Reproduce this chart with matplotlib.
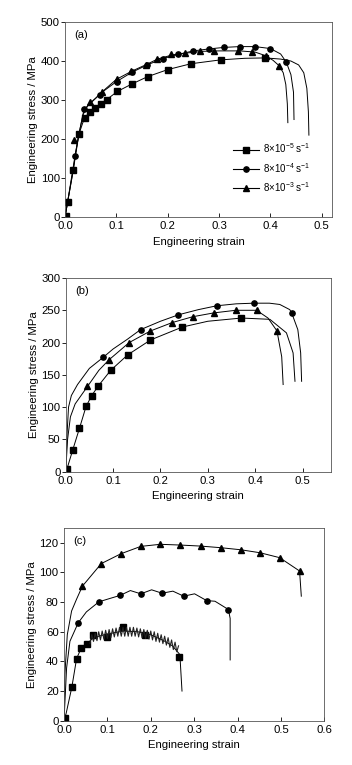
import matplotlib
matplotlib.use('Agg')
import matplotlib.pyplot as plt

plt.rcParams['font.family'] = ['Liberation Sans', 'DejaVu Sans']
plt.rcParams['mathtext.fontset'] = 'custom'
plt.rcParams['mathtext.rm'] = 'Liberation Sans'
plt.rcParams['mathtext.default'] = 'regular'

labels = ['8×10$^{-5}$ s$^{-1}$', '8×10$^{-4}$ s$^{-1}$', '8×10$^{-3}$ s$^{-1}$']

# ---- panel (a) ----
a_sq_x = [0, 0.005, 0.016, 0.027, 0.038, 0.049, 0.059, 0.07, 0.081, 0.102, 0.13, 0.161, 0.2, 0.245, 0.303, 0.35, 0.39, 0.42, 0.44, 0.455, 0.465, 0.471, 0.474, 0.475]
a_sq_y = [0, 38, 120, 212, 255, 269, 280, 291, 301, 322, 341, 360, 378, 393, 403, 407, 408, 405, 400, 390, 370, 330, 270, 210]
a_sq_mx = [0.002, 0.005, 0.016, 0.027, 0.038, 0.049, 0.059, 0.07, 0.081, 0.102, 0.13, 0.161, 0.2, 0.245, 0.303, 0.39]
a_sq_my = [2, 38, 120, 212, 255, 269, 280, 291, 301, 322, 341, 360, 378, 393, 403, 408]

a_ci_x = [0, 0.005, 0.0195, 0.027, 0.037, 0.05, 0.07, 0.1, 0.13, 0.16, 0.19, 0.22, 0.25, 0.28, 0.31, 0.34, 0.37, 0.4, 0.42, 0.431, 0.44, 0.445, 0.446]
a_ci_y = [0, 38, 157, 212, 276, 292, 318, 347, 371, 390, 406, 417, 426, 431, 435, 437, 437, 432, 418, 397, 365, 320, 250]
a_ci_mx = [0.0195, 0.037, 0.069, 0.101, 0.13, 0.159, 0.19, 0.22, 0.25, 0.28, 0.31, 0.34, 0.37, 0.40, 0.431]
a_ci_my = [157, 276, 314, 347, 371, 390, 406, 418, 426, 432, 435, 437, 437, 432, 397]

a_tr_x = [0, 0.005, 0.016, 0.02, 0.027, 0.035, 0.045, 0.06, 0.08, 0.1, 0.13, 0.16, 0.18, 0.21, 0.24, 0.27, 0.3, 0.34, 0.37, 0.39, 0.405, 0.417, 0.425, 0.43, 0.433, 0.434]
a_tr_y = [0, 38, 120, 160, 212, 262, 288, 305, 330, 353, 374, 392, 405, 416, 421, 425, 426, 426, 423, 414, 402, 388, 370, 340, 290, 242]
a_tr_mx = [0.018, 0.048, 0.072, 0.101, 0.129, 0.158, 0.18, 0.206, 0.233, 0.262, 0.29, 0.337, 0.365, 0.392, 0.417]
a_tr_my = [198, 294, 321, 355, 374, 391, 406, 417, 421, 426, 427, 426, 423, 414, 388]

# ---- panel (b) ----
b_sq_x = [0, 0.003, 0.015, 0.029, 0.043, 0.055, 0.069, 0.095, 0.131, 0.179, 0.246, 0.3, 0.371, 0.431, 0.466, 0.48, 0.484]
b_sq_y = [0, 5, 34, 67, 101, 118, 133, 157, 181, 204, 224, 233, 238, 236, 215, 184, 140]
b_sq_mx = [0.002, 0.015, 0.029, 0.043, 0.055, 0.069, 0.095, 0.131, 0.179, 0.246, 0.371]
b_sq_my = [4, 34, 67, 101, 118, 133, 157, 181, 204, 224, 238]

b_ci_x = [0, 0.003, 0.006, 0.012, 0.025, 0.05, 0.079, 0.1, 0.13, 0.158, 0.2, 0.238, 0.28, 0.319, 0.36, 0.397, 0.43, 0.452, 0.473, 0.477, 0.49, 0.496, 0.498]
b_ci_y = [0, 60, 100, 118, 135, 160, 177, 190, 205, 220, 233, 243, 251, 257, 260, 261, 261, 259, 251, 246, 220, 184, 140]
b_ci_mx = [0.079, 0.158, 0.238, 0.319, 0.397, 0.477]
b_ci_my = [177, 220, 243, 257, 261, 246]

b_tr_x = [0, 0.004, 0.01, 0.02, 0.046, 0.07, 0.091, 0.134, 0.179, 0.225, 0.268, 0.313, 0.359, 0.403, 0.427, 0.446, 0.456, 0.459]
b_tr_y = [0, 50, 85, 105, 132, 157, 173, 200, 218, 231, 240, 246, 250, 250, 238, 218, 178, 135]
b_tr_mx = [0.046, 0.091, 0.134, 0.179, 0.225, 0.268, 0.313, 0.359, 0.403, 0.446]
b_tr_my = [132, 173, 200, 218, 231, 240, 246, 250, 250, 218]

# ---- panel (c) ----
c_sq_x = [0, 0.005, 0.018, 0.029, 0.04, 0.053, 0.067, 0.1, 0.137, 0.17, 0.2, 0.23, 0.25, 0.266, 0.268, 0.27, 0.272]
c_sq_y = [0, 5, 22.5, 41.8, 49.3, 51.7, 56, 58.5, 60.5, 60, 58, 54, 50.5, 45, 40, 30, 20]
c_sq_mx = [0.002, 0.018, 0.029, 0.04, 0.053, 0.067, 0.099, 0.137, 0.187, 0.266]
c_sq_my = [2, 22.5, 41.8, 49.3, 51.7, 58, 56.7, 63, 57.6, 43.2]
# serrations of the slowest rate
c_serr_x = [0.060, 0.064, 0.068, 0.072, 0.076, 0.080, 0.084, 0.088, 0.092, 0.096,
            0.100, 0.104, 0.108, 0.112, 0.116, 0.120, 0.124, 0.128, 0.132, 0.136,
            0.140, 0.144, 0.148, 0.152, 0.156, 0.160, 0.164, 0.168, 0.172, 0.176,
            0.180, 0.184, 0.188, 0.192, 0.196, 0.200, 0.204, 0.208, 0.212, 0.216,
            0.220, 0.224, 0.228, 0.232, 0.236, 0.240, 0.244, 0.248, 0.252, 0.256,
            0.260, 0.264]
c_serr_y = [52, 58, 53.5, 59, 54, 60, 54.5, 60.5, 55, 61,
            55.5, 61.5, 56, 62, 56.5, 62.5, 57, 63, 57, 63,
            57, 63, 57, 63, 57, 63, 57, 62.5, 56.5, 62,
            56, 61.5, 55.5, 61, 55, 60.5, 54.5, 60, 53.5, 59,
            53, 58, 52, 57, 51, 56, 49.5, 54.5, 48, 53,
            46.5, 50.5]

c_ci_x = [0, 0.006, 0.0137, 0.0327, 0.0516, 0.0805, 0.105, 0.129, 0.153, 0.177, 0.202, 0.226, 0.251, 0.276, 0.301, 0.329, 0.348, 0.368, 0.379, 0.383, 0.383]
c_ci_y = [0, 35.6, 53.6, 66, 73.4, 80.2, 82.4, 84.5, 87.8, 85.6, 88.3, 86, 87.4, 84, 85.6, 81, 80.6, 77, 75, 69, 41]
c_ci_mx = [0.0327, 0.0805, 0.129, 0.177, 0.226, 0.276, 0.329, 0.379]
c_ci_my = [66, 80.2, 84.5, 85.6, 86, 84, 81, 75]

c_tr_x = [0, 0.002, 0.0076, 0.0175, 0.029, 0.0425, 0.086, 0.131, 0.177, 0.222, 0.268, 0.315, 0.362, 0.408, 0.452, 0.497, 0.543, 0.547]
c_tr_y = [0, 31, 58, 74, 82, 90.8, 106, 112.6, 117.6, 119, 118.5, 117.8, 116.7, 115.3, 113.3, 110, 101, 84]
c_tr_mx = [0.0425, 0.086, 0.131, 0.177, 0.222, 0.268, 0.315, 0.362, 0.408, 0.452, 0.497, 0.543]
c_tr_my = [90.8, 106, 112.6, 117.6, 119, 118.5, 117.8, 116.7, 115.3, 113.3, 110, 101]


def draw_curve(ax, x, y, mx, my, marker, label=None):
    ax.plot(x, y, color='black', lw=0.7)
    ax.plot(mx, my, ls='none', marker=marker, color='black', ms=3.8)
    if label is not None:
        ax.plot([], [], color='black', lw=0.8, marker=marker, ms=3.8, label=label)


def style_axes(ax, xlim, ylim, xticks, yticks, tag):
    ax.set_xlim(*xlim)
    ax.set_ylim(*ylim)
    ax.set_xticks(xticks)
    ax.set_yticks(yticks)
    ax.set_xticklabels(['%.1f' % t for t in xticks])
    ax.tick_params(axis='x', direction='in', length=3, width=0.6, labelsize=8.2, pad=3)
    ax.tick_params(axis='y', direction='out', length=3, width=0.6, labelsize=8.2, pad=0.8)
    ax.tick_params(top=False, right=False)
    for s in ax.spines.values():
        s.set_linewidth(0.6)
        s.set_color('#555555')
    ax.set_xlabel('Engineering strain', fontsize=8.2, labelpad=4)
    ax.set_ylabel('Engineering stress / MPa', fontsize=8.2, labelpad=2)
    ax.text(0.035, 0.935, tag, transform=ax.transAxes, fontsize=8, va='center')


fig = plt.figure(figsize=(3.52, 7.65), dpi=100)
ax1 = fig.add_axes([0.1847, 0.7163, 0.7585, 0.2549])
ax2 = fig.add_axes([0.1866, 0.3834, 0.7537, 0.2532])
ax3 = fig.add_axes([0.1818, 0.0579, 0.7395, 0.2519])

draw_curve(ax1, a_sq_x, a_sq_y, a_sq_mx, a_sq_my, 's', labels[0])
draw_curve(ax1, a_ci_x, a_ci_y, a_ci_mx, a_ci_my, 'o', labels[1])
draw_curve(ax1, a_tr_x, a_tr_y, a_tr_mx, a_tr_my, '^', labels[2])
style_axes(ax1, (0, 0.52), (0, 500), [0, 0.1, 0.2, 0.3, 0.4, 0.5], [0, 100, 200, 300, 400, 500], '(a)')
ax1.legend(loc='lower left', bbox_to_anchor=(0.595, 0.075), frameon=False, fontsize=7,
           handlelength=2.7, handletextpad=0.4, labelspacing=0.55)

draw_curve(ax2, b_sq_x, b_sq_y, b_sq_mx, b_sq_my, 's')
draw_curve(ax2, b_ci_x, b_ci_y, b_ci_mx, b_ci_my, 'o')
draw_curve(ax2, b_tr_x, b_tr_y, b_tr_mx, b_tr_my, '^')
style_axes(ax2, (0, 0.56), (0, 300), [0, 0.1, 0.2, 0.3, 0.4, 0.5], [0, 50, 100, 150, 200, 250, 300], '(b)')

draw_curve(ax3, c_sq_x, c_sq_y, c_sq_mx, c_sq_my, 's')
ax3.plot(c_serr_x, c_serr_y, color='#222222', lw=0.8)
draw_curve(ax3, c_ci_x, c_ci_y, c_ci_mx, c_ci_my, 'o')
draw_curve(ax3, c_tr_x, c_tr_y, c_tr_mx, c_tr_my, '^')
style_axes(ax3, (0, 0.6), (0, 130), [0, 0.1, 0.2, 0.3, 0.4, 0.5, 0.6], [0, 20, 40, 60, 80, 100, 120], '(c)')

fig.savefig('out.png', dpi=100)
